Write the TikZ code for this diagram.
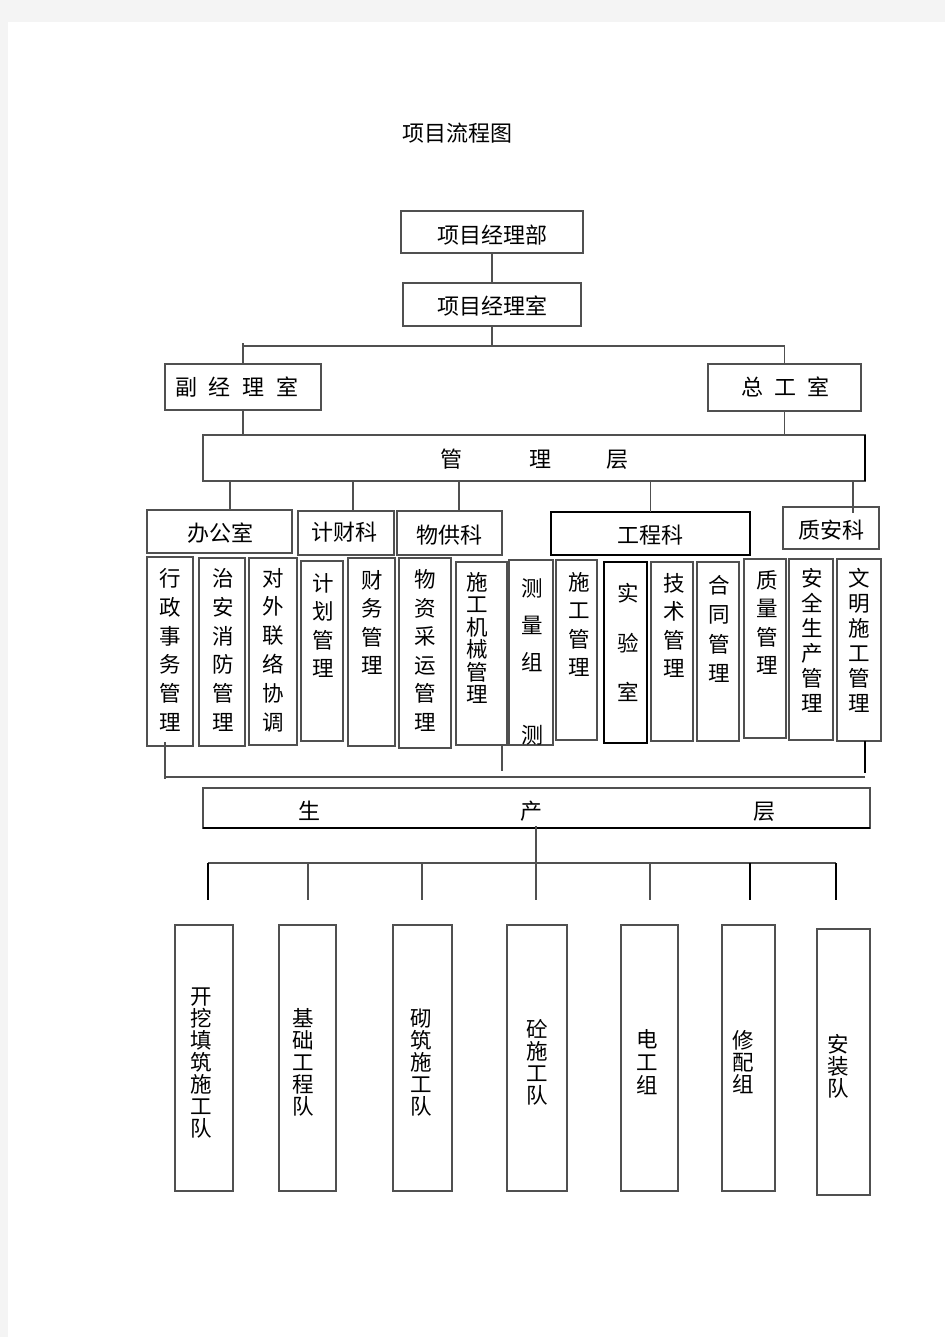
\documentclass[tikz,border=0pt]{standalone}
\usepackage{fontspec}
\setmainfont{Noto Sans CJK SC}
\usetikzlibrary{calc}
\definecolor{pagebg}{HTML}{F4F4F4}
\definecolor{ln}{HTML}{505050}
\tikzset{
  boxst/.style={draw=ln, line width=1.1pt, rectangle, inner sep=0pt, outer sep=0pt},
  heavy/.style={draw=black, line width=2pt},
  conn/.style={draw=ln, line width=1.1pt},
  thickconn/.style={draw=black, line width=2pt},
  lbl/.style={inner sep=0pt, outer sep=0pt, font=\fontsize{22}{26}\selectfont},
  vt/.style={inner sep=0pt, outer sep=0pt, align=center, font=\fontsize{21.5}{#1}\selectfont},
}
\newcommand\orgbox[6][]{\node[boxst,#1,minimum width={(#4-#2)*1pt},minimum height={(#5-#3)*1pt}] (#6) at ({(#2+#4)/2},{(#3+#5)/2}) {};}
\begin{document}
\begin{tikzpicture}[x=1pt,y=-1pt]
\fill[pagebg] (0,0) rectangle (945,1337);
\fill[white] (8,22) rectangle (945,1337);
\useasboundingbox (0,0) rectangle (945,1337);

% title
\node[lbl] (title) at (457,133) {项目流程图};

% top
\orgbox{401}{211}{583}{253}{bu}
\node[lbl] (tbu) at (492,235) {项目经理部};
\orgbox{403}{283}{581}{326}{shi}
\node[lbl] (tshi) at (492,306) {项目经理室};
\orgbox{165}{364}{321}{410}{fu}
\node[lbl] (tfu) at (237,387) {副\hspace{12pt}经\hspace{12pt}理\hspace{12pt}室};
\orgbox{708}{364}{861}{411}{zong}
\node[lbl] (tzong) at (785,387) {总\hspace{11pt}工\hspace{11pt}室};

\orgbox{203}{435}{865}{481}{gl}
\draw[thickconn] (gl.north east) -- (gl.south east);
\node[lbl] (tgl) at (534,459) {管\hspace{67pt}理\hspace{55pt}层};

% departments
\orgbox{147}{510}{292}{553}{bgs}
\node[lbl] (tbgs) at (220,533) {办公室};
\orgbox{298}{511}{394}{555}{jck}
\node[lbl] (tjck) at (344,532) {计财科};
\orgbox{397}{511}{502}{555}{wgk}
\node[lbl] (twgk) at (449,535) {物供科};
\orgbox[heavy]{551}{512}{750}{555}{gck}
\node[lbl] (tgck) at (650,535) {工程科};
\orgbox{783}{507}{879}{549}{zak}
\node[lbl] (tzak) at (831,530) {质安科};

% middle row
\orgbox{147}{557}{193}{746}{m1}
\node[vt=28.8] (tm1) at (170,650) {行\\政\\事\\务\\管\\理};
\orgbox{199}{558}{245}{746}{m2}
\node[vt=28.8] (tm2) at (223,650) {治\\安\\消\\防\\管\\理};
\orgbox{249}{558}{297}{745}{m3}
\node[vt=28.8] (tm3) at (273,650) {对\\外\\联\\络\\协\\调};
\orgbox{301}{561}{343}{741}{m4}
\node[vt=28.3] (tm4) at (323,625.5) {计\\划\\管\\理};
\orgbox{348}{558}{395}{746}{m5}
\node[vt=28.3] (tm5) at (372,622.5) {财\\务\\管\\理};
\orgbox{399}{558}{451}{748}{m6}
\node[vt=28.6] (tm6) at (425,650.5) {物\\资\\采\\运\\管\\理};
\orgbox{456}{562}{507}{745}{m7}
\node[vt=22.4] (tm7) at (477,638) {施\\工\\机\\械\\管\\理};
\orgbox{509}{560}{553}{745}{m8}
\node[vt=37] (tm8) at (532,625) {测\\量\\组};
\begin{scope}
\clip (509,560) rectangle (553,745);
\node[lbl] (tm8b) at (532,735) {测};
\end{scope}
\orgbox{556}{560}{597}{740}{m9}
\node[vt=28.3] (tm9) at (579,624.5) {施\\工\\管\\理};
\orgbox[heavy]{604}{562}{647}{743}{m10}
\node[vt=49.5] (tm10) at (628,642.5) {实\\验\\室};
\orgbox{651}{562}{693}{741}{m11}
\node[vt=28.3] (tm11) at (674,625.5) {技\\术\\管\\理};
\orgbox{697}{562}{739}{741}{m12}
\node[vt=29.3] (tm12) at (719,629) {合\\同\\管\\理};
\orgbox{744}{559}{786}{738}{m13}
\node[vt=28.3] (tm13) at (767,622.5) {质\\量\\管\\理};
\orgbox{789}{559}{833}{740}{m14}
\node[vt=25] (tm14) at (812,640.5) {安\\全\\生\\产\\管\\理};
\orgbox{837}{559}{881}{741}{m15}
\node[vt=25] (tm15) at (859,640.5) {文\\明\\施\\工\\管\\理};

% production layer
\orgbox{203}{788}{870}{828}{sc}
\draw[thickconn] (sc.south west) -- (sc.south east);
\node[lbl] (tsc) at (536.5,811) {生\hspace{200pt}产\hspace{211pt}层};

% bottom row
\orgbox{175}{925}{233}{1191}{b1}
\node[vt=22] (tb1) at (201,1063) {开\\挖\\填\\筑\\施\\工\\队};
\orgbox{279}{925}{336}{1191}{b2}
\node[vt=22] (tb2) at (303,1062) {基\\础\\工\\程\\队};
\orgbox{393}{925}{452}{1191}{b3}
\node[vt=22] (tb3) at (421,1063) {砌\\筑\\施\\工\\队};
\orgbox{507}{925}{567}{1191}{b4}
\node[vt=22] (tb4) at (537,1062) {砼\\施\\工\\队};
\orgbox{621}{925}{678}{1191}{b5}
\node[vt=23] (tb5) at (647,1062) {电\\工\\组};
\orgbox{722}{925}{775}{1191}{b6}
\node[vt=22] (tb6) at (743,1062) {修\\配\\组};
\orgbox{817}{929}{870}{1195}{b7}
\node[vt=22] (tb7) at (838,1066) {安\\装\\队};

% connectors: top
\draw[conn] (bu.south) -- (shi.north);
\coordinate (j1) at (492,346);
\draw[conn] (shi.south) -- (j1);
\draw[conn] (fu.north |- j1) -- (zong.north |- j1);
\draw[conn] ($(fu.north |- j1)+(0,-3)$) -- (fu.north);
\draw[conn] (zong.north |- j1) -- (zong.north);
\draw[conn] (fu.south) -- (fu.south |- gl.north);
\draw[conn] (zong.south) -- (zong.south |- gl.north);

% connectors: management layer to departments
\draw[conn] ($(bgs.north |- gl.south)+(10.5,0)$) -- ($(bgs.north)+(10.5,0)$);
\draw[conn] ($(jck.north |- gl.south)+(7,0)$) -- ($(jck.north)+(7,0)$);
\draw[conn] ($(wgk.north |- gl.south)+(9.5,0)$) -- ($(wgk.north)+(9.5,0)$);
\draw[conn] (gck.north |- gl.south) -- (gck.north);
\draw[conn] ($(zak.north |- gl.south)+(22,0)$) -- ($(zak.north)+(22,6)$);

% bottom bus of the middle row
\coordinate (hl) at (165,777);
\coordinate (hr) at (865,777);
\draw[conn] (hl) -- (hr);
\draw[conn] ($(m1.south)+(-5,-4)$) -- ($(hl)+(0,2)$);
\draw[conn] ($(m7.south)+(20.5,0)$) -- ($(m7.south |- hl)+(20.5,-6)$);
\draw[thickconn] ($(m15.south)+(6,0)$) -- ($(m15.south |- hl)+(6,-4)$);

% production layer to teams
\coordinate (bl) at (208,863);
\coordinate (br) at (836,863);
\coordinate (d1) at (208,900);
\coordinate (d2) at (308,900);
\coordinate (d3) at (422,900);
\coordinate (d4) at (536,900);
\coordinate (d5) at (650,900);
\coordinate (d6) at (750,900);
\coordinate (d7) at (836,900);
\draw[conn] (bl) -- (br);
\draw[conn] ($(sc.south)+(-0.5,-2)$) -- (d4);
\draw[thickconn] (d1 |- bl) -- (d1);
\draw[conn] (d2 |- bl) -- (d2);
\draw[conn] (d3 |- bl) -- (d3);
\draw[conn] (d5 |- bl) -- (d5);
\draw[thickconn] (d6 |- bl) -- (d6);
\draw[thickconn] (d7 |- bl) -- (d7);
\end{tikzpicture}
\end{document}
